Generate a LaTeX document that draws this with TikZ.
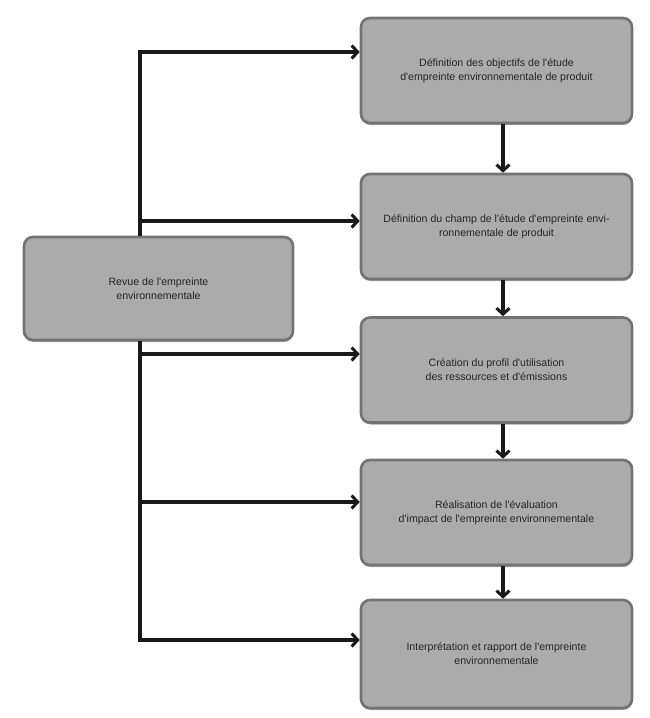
\documentclass[tikz,border=0pt]{standalone}
\usepackage{fontspec}
\setmainfont{Liberation Sans}[Ligatures=TeXOff]
\usetikzlibrary{arrows.meta,shadows}
\begin{document}
\begin{tikzpicture}[x=1pt,y=-1pt,
  box/.style={draw=black!55, line width=2.6pt, fill=black!33, rounded corners=9pt,
    minimum width=271pt, minimum height=105pt, align=center, inner sep=0pt,
    font=\fontsize{10.6}{13.8}\selectfont, text=black!85,
    drop shadow={shadow xshift=0.3pt, shadow yshift=-2pt, fill=black!60, opacity=0.6}},
  ln/.style={line width=3.2pt, black!90},
  arr/.style={ln, -{Straight Barb[length=6pt,width=13pt,line width=3pt]}}]
\useasboundingbox (0,0) rectangle (650,718);
\node[box] (b1) at (496.5,70.5) {Définition des objectifs de l'étude\\d'empreinte environnementale de produit};
\node[box] (b2) at (496.5,226.5) {Définition du champ de l'étude d'empreinte envi-\\ronnementale de produit};
\node[box] (b3) at (496.5,370) {Création du profil d'utilisation\\des ressources et d'émissions};
\node[box] (b4) at (496.5,512.5) {Réalisation de l'évaluation\\d'impact de l'empreinte environnementale};
\node[box, minimum height=108pt] (b5) at (496.5,654) {Interprétation et rapport de l'empreinte\\environnementale};
\node[box, minimum width=269pt, minimum height=103pt] (rev) at (158.5,288.5) {Revue de l'empreinte\\environnementale};
\coordinate (j1) at (140,52);
\coordinate (j2) at (140,221);
\coordinate (j3) at (140,354);
\coordinate (j4) at (140,502);
\coordinate (j5) at (140,640);
\coordinate (vx) at (503,0);
\draw[ln] (rev.north -| j1) -- (j1);
\draw[ln] (rev.south -| j1) -- (j5);
\draw[arr] ([yshift=0pt]j1 -| 138.4,0) -- (j1 -| b1.west);
\draw[arr] (j2) -- (j2 -| b2.west);
\draw[arr] (j3) -- (j3 -| b3.west);
\draw[arr] (j4) -- (j4 -| b4.west);
\draw[arr] ([xshift=-1.6pt]j5) -- (j5 -| b5.west);
\draw[arr] (b1.south -| vx) -- (b2.north -| vx);
\draw[arr] (b2.south -| vx) -- (b3.north -| vx);
\draw[arr] (b3.south -| vx) -- (b4.north -| vx);
\draw[arr] (b4.south -| vx) -- (b5.north -| vx);
\end{tikzpicture}
\end{document}
